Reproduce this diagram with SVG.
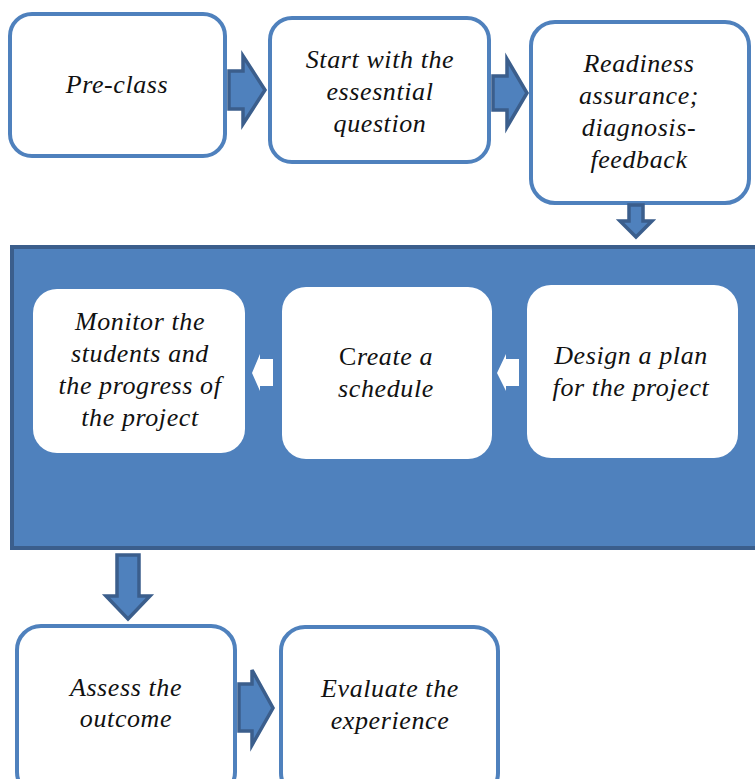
<svg xmlns="http://www.w3.org/2000/svg" width="755" height="779" viewBox="0 0 755 779">
  <style>
    .box { fill: #ffffff; stroke: #4f81bd; stroke-width: 4; }
    .inner { fill: #ffffff; stroke: none; }
    .arrow { fill: #4f81bd; stroke: #3b5e8c; stroke-width: 3.5; stroke-linejoin: miter; }
    .small { fill: #ffffff; stroke: none; }
    .panel { fill: #4f81bd; stroke: #3b5e8c; stroke-width: 4; }
    text { font-family: "Liberation Serif", "Times New Roman", serif; font-style: italic; font-size: 26px; letter-spacing: 0.6px; fill: #111111; text-anchor: middle; }
    .up { font-style: normal; }
  </style>
  <rect width="755" height="779" fill="#ffffff"/>

  <!-- process container -->
  <rect class="panel" x="12" y="247" width="760" height="301"/>

  <g id="preclass">
    <rect class="box" x="10" y="14" width="215" height="142" rx="22"/>
    <text x="117" y="93">Pre-class</text>
  </g>
  <g id="essential-question">
    <rect class="box" x="270" y="18" width="219" height="144" rx="22"/>
    <text x="380" y="68">Start with the</text>
    <text x="380" y="100">essesntial</text>
    <text x="380" y="132">question</text>
  </g>
  <g id="readiness">
    <rect class="box" x="531" y="22" width="218" height="181" rx="24"/>
    <text x="639" y="72">Readiness</text>
    <text x="639" y="104">assurance;</text>
    <text x="639" y="136">diagnosis-</text>
    <text x="639" y="168">feedback</text>
  </g>
  <g id="design-plan">
    <rect class="inner" x="527" y="285" width="211" height="173" rx="24"/>
    <text x="631" y="364">Design a plan</text>
    <text x="631" y="396">for the project</text>
  </g>
  <g id="schedule">
    <rect class="inner" x="282" y="287" width="210" height="172" rx="24"/>
    <text x="386" y="365"><tspan class="up">C</tspan>reate a</text>
    <text x="386" y="397">schedule</text>
  </g>
  <g id="monitor">
    <rect class="inner" x="33" y="289" width="212" height="164" rx="24"/>
    <text x="140" y="330">Monitor the</text>
    <text x="140" y="362">students and</text>
    <text x="140" y="394">the progress of</text>
    <text x="140" y="426">the project</text>
  </g>
  <g id="assess">
    <rect class="box" x="17" y="626" width="218" height="170" rx="24"/>
    <text x="126" y="696">Assess the</text>
    <text x="126" y="727">outcome</text>
  </g>
  <g id="evaluate">
    <rect class="box" x="281" y="627" width="217" height="170" rx="24"/>
    <text x="390" y="697">Evaluate the</text>
    <text x="390" y="729">experience</text>
  </g>

  <g id="connectors">
    <!-- right-pointing block arrows -->
    <polygon class="arrow" points="229,71 243,71 243,56 265,90 243,124 243,109 229,109"/>
    <polygon class="arrow" points="493,76 507,76 507,59 527,93 507,127 507,110 493,110"/>
    <polygon class="arrow" points="239,684 252,684 252,670 273,708 252,745 252,731 239,731"/>
    <!-- downward block arrows -->
    <polygon class="arrow" points="629,205 643,205 643,221 652,221 636,237 620,221 629,221"/>
    <polygon class="arrow" points="117,555 139,555 139,596 150,596 128,619 106,596 117,596"/>
    <!-- small left-pointing arrows inside the container -->
    <polygon class="small" points="273,359 260,359 260,354 252,373 260,391 260,386 273,386"/>
    <polygon class="small" points="519,359 506,359 506,354 497,373 506,391 506,386 519,386"/>
  </g>
</svg>
